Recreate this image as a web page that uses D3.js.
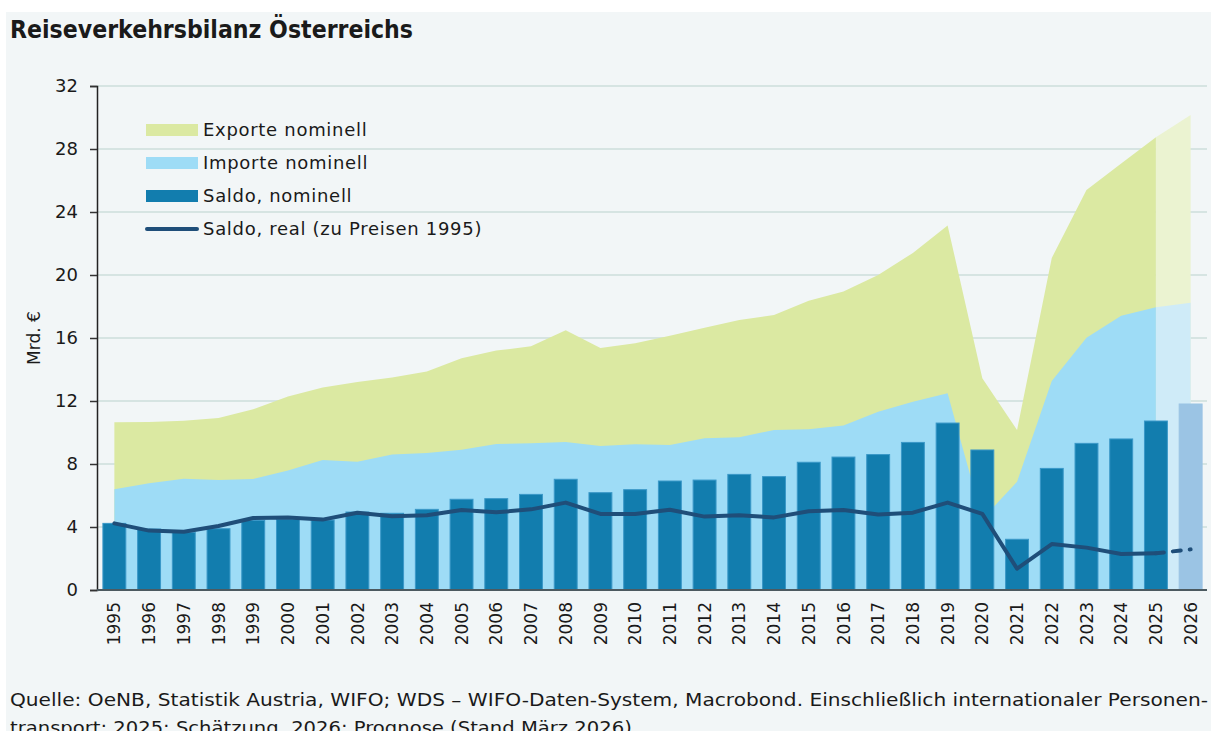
<!DOCTYPE html>
<html>
<head>
<meta charset="utf-8">
<script src="https://cdn.jsdelivr.net/npm/d3@7"></script>
<style>
  body { margin: 0; background: #fff; }
  text { font-family: "DejaVu Sans", sans-serif; fill: #1a1a1a; }
</style>
</head>
<body>
<div id="chart"></div>
<script>
// data (Mrd. €)
var years = ["1995","1996","1997","1998","1999","2000","2001","2002","2003","2004","2005","2006","2007","2008","2009","2010",
             "2011","2012","2013","2014","2015","2016","2017","2018","2019","2020","2021","2022","2023","2024","2025","2026"]
var exporte = [10.65, 10.67, 10.75, 10.92, 11.47, 12.28, 12.85, 13.2, 13.5, 13.88, 14.71, 15.2, 15.47, 16.5, 15.37, 15.66,
               16.15, 16.65, 17.14, 17.46, 18.37, 18.96, 20.0, 21.4, 23.15, 13.45, 10.16, 21.08, 25.4, 27.08, 28.74, 30.16]
var importe = [6.4, 6.77, 7.07, 6.98, 7.05, 7.58, 8.25, 8.15, 8.6, 8.7, 8.9, 9.27, 9.31, 9.4, 9.14, 9.25,
               9.2, 9.63, 9.7, 10.16, 10.2, 10.45, 11.32, 11.96, 12.49, 4.5, 6.88, 13.27, 16.02, 17.42, 17.95, 18.24]
var saldoNominell = [4.23, 3.87, 3.66, 3.89, 4.42, 4.49, 4.44, 4.95, 4.87, 5.12, 5.76, 5.8, 6.07, 7.03, 6.18, 6.37,
                     6.92, 6.98, 7.34, 7.2, 8.11, 8.44, 8.6, 9.37, 10.6, 8.89, 3.22, 7.72, 9.31, 9.59, 10.73, 11.81]
var saldoReal = [4.23, 3.77, 3.7, 4.06, 4.57, 4.61, 4.47, 4.91, 4.68, 4.74, 5.08, 4.93, 5.12, 5.55, 4.83, 4.83,
                 5.1, 4.66, 4.74, 4.61, 5.0, 5.08, 4.8, 4.91, 5.55, 4.83, 1.35, 2.92, 2.69, 2.29, 2.33, 2.58]
var yTicks = [0, 4, 8, 12, 16, 20, 24, 28, 32]
var legendLabels = ["Exporte nominell", "Importe nominell", "Saldo, nominell", "Saldo, real (zu Preisen 1995)"]
var forecastFrom = "2025" // last actual year, 2026 = forecast

var W = 1211, H = 731
var margin = { left: 97, right: 1208, top: 86, bottom: 590 }

var data = years.map(function(y, i) {
    return { year: y, exp: exporte[i], imp: importe[i], saldo: saldoNominell[i], real: saldoReal[i] }
})
var iSplit = years.indexOf(forecastFrom)
var actual = data.slice(0, iSplit + 1)
var forecast = data.slice(iSplit)

var svg = d3.select("#chart").append("svg")
    .attr("width", W)
    .attr("height", H)

// panel background
svg.append("rect")
    .attr("x", 6).attr("y", 12)
    .attr("width", W - 6).attr("height", H - 12)
    .attr("fill", "#f2f6f7")

svg.append("text")
    .attr("x", 10).attr("y", 38)
    .attr("font-size", 24)
    .attr("font-weight", "bold")
    .attr("textLength", 403)
    .attr("lengthAdjust", "spacingAndGlyphs")
    .text("Reiseverkehrsbilanz Österreichs")

var x = d3.scaleBand()
    .domain(years)
    .range([margin.left, margin.right])
    .paddingInner(0.34)
    .paddingOuter(0.17)

var y = d3.scaleLinear()
    .domain([0, 32])
    .range([margin.bottom, margin.top])

function cx(d) { return x(d.year) + x.bandwidth() / 2 }

// gridlines
svg.append("g")
    .selectAll("line")
    .data(yTicks.filter(function(t) { return t > 0 }))
    .enter().append("line")
    .attr("x1", margin.left).attr("x2", 1207)
    .attr("y1", function(d) { return y(d) })
    .attr("y2", function(d) { return y(d) })
    .attr("stroke", "#d6e4e2")
    .attr("stroke-width", 2)

// areas: exports behind, imports in front
var areaExp = d3.area().x(cx).y0(y(0)).y1(function(d) { return y(d.exp) })
var areaImp = d3.area().x(cx).y0(y(0)).y1(function(d) { return y(d.imp) })

svg.append("path").datum(actual).attr("d", areaExp).attr("fill", "#dbe9a2")
svg.append("path").datum(forecast).attr("d", areaExp).attr("fill", "#ebf3d1")
svg.append("path").datum(actual).attr("d", areaImp).attr("fill", "#9edcf6")
svg.append("path").datum(forecast).attr("d", areaImp).attr("fill", "#cfebf8")

// bars
svg.append("g")
    .selectAll("rect")
    .data(data)
    .enter().append("rect")
    .attr("x", function(d) { return x(d.year) })
    .attr("y", function(d) { return y(d.saldo) })
    .attr("width", x.bandwidth())
    .attr("height", function(d) { return y(0) - y(d.saldo) })
    .attr("fill", function(d, i) { return i > iSplit ? "#9bc4e4" : "#127dae" })
    .attr("stroke", function(d, i) { return i > iSplit ? "#9bc4e4" : "#3a98c8" })
    .attr("stroke-width", 1)

// real balance line
var line = d3.line().x(cx).y(function(d) { return y(d.real) })
svg.append("path").datum(actual)
    .attr("d", line)
    .attr("fill", "none")
    .attr("stroke", "#1f4e79")
    .attr("stroke-width", 4)
    .attr("stroke-linejoin", "round")
    .attr("stroke-linecap", "round")
svg.append("path").datum(forecast)
    .attr("d", line)
    .attr("fill", "none")
    .attr("stroke", "#1f4e79")
    .attr("stroke-width", 4)
    .attr("stroke-linecap", "round")
    .attr("stroke-dasharray", "8,9")

// y axis
var yAxis = svg.append("g")
    .attr("transform", "translate(" + margin.left + ",0)")
    .call(d3.axisLeft(y).tickValues(yTicks).tickSize(7).tickPadding(12))
yAxis.select(".domain").attr("stroke", "#222").attr("stroke-width", 1.5)
yAxis.selectAll(".tick line").attr("stroke", "#333").attr("stroke-width", 1.5)
yAxis.selectAll("text").attr("font-size", 18).attr("font-family", "DejaVu Sans").attr("fill", "#1a1a1a")

// baseline
svg.append("line")
    .attr("x1", margin.left).attr("x2", 1207)
    .attr("y1", y(0)).attr("y2", y(0))
    .attr("stroke", "#4c5a60")
    .attr("stroke-width", 2)

svg.append("text")
    .attr("transform", "translate(34," + y(16) + ") rotate(-90)")
    .attr("text-anchor", "middle")
    .attr("dy", "0.36em")
    .attr("font-size", 17)
    .text("Mrd. €")

// x labels
svg.append("g")
    .selectAll("text")
    .data(years)
    .enter().append("text")
    .attr("transform", function(d) { return "translate(" + (x(d) + x.bandwidth() / 2) + ",602) rotate(-90)" })
    .attr("text-anchor", "end")
    .attr("dy", "0.36em")
    .attr("font-size", 17)
    .text(function(d) { return d })

// legend
var legend = svg.append("g").attr("transform", "translate(146,130)")
var swatchColors = ["#dbe9a2", "#9edcf6", "#127dae"]
legendLabels.forEach(function(lab, i) {
    var g = legend.append("g").attr("transform", "translate(0," + (i * 33) + ")")
    if (i < 3) {
        g.append("rect").attr("x", 0).attr("y", -6).attr("width", 52).attr("height", 12).attr("fill", swatchColors[i])
    } else {
        g.append("line").attr("x1", 1).attr("x2", 51).attr("y1", 0).attr("y2", 0)
            .attr("stroke", "#1f4e79").attr("stroke-width", 4).attr("stroke-linecap", "round")
    }
    g.append("text").attr("x", 57).attr("dy", "0.36em").attr("font-size", 18)
        .attr("letter-spacing", 0.7).text(lab)
})

// source note
svg.append("text")
    .attr("x", 10).attr("y", 706)
    .attr("font-size", 17)
    .attr("textLength", 1198)
    .attr("lengthAdjust", "spacingAndGlyphs")
    .text("Quelle: OeNB, Statistik Austria, WIFO; WDS – WIFO-Daten-System, Macrobond. Einschließlich internationaler Personen-")
svg.append("text")
    .attr("x", 10).attr("y", 734)
    .attr("font-size", 17)
    .attr("textLength", 628)
    .attr("lengthAdjust", "spacingAndGlyphs")
    .text("transport; 2025: Schätzung, 2026: Prognose (Stand März 2026).")
</script>
</body>
</html>
